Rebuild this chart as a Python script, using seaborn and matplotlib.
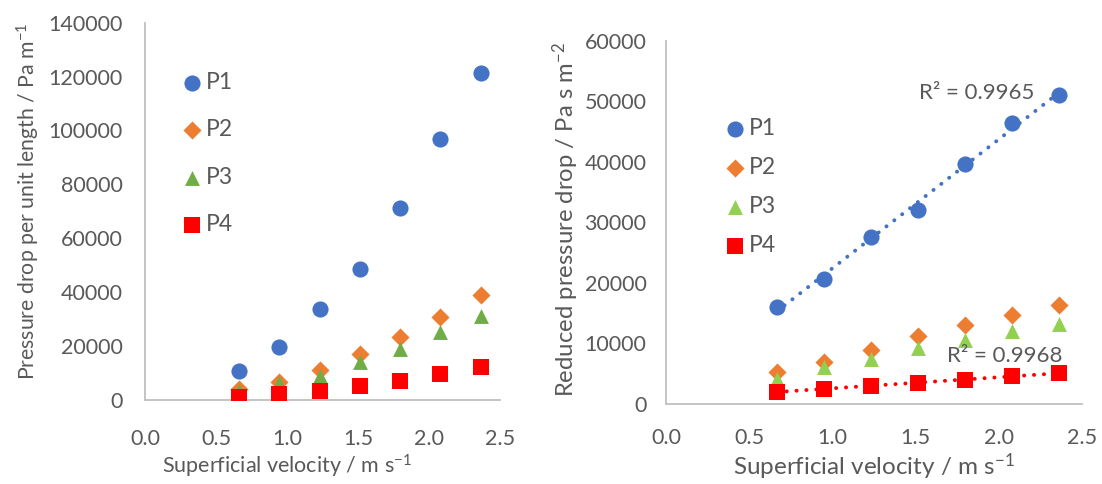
import numpy as np
import pandas as pd
import matplotlib
matplotlib.use("Agg")
import matplotlib.pyplot as plt
import seaborn as sns

# superficial velocity (m/s)
velocity = [0.665, 0.947, 1.229, 1.513, 1.796, 2.080, 2.363]
series = ["P1", "P2", "P3", "P4"]

# pressure drop per unit length (Pa/m)
dp_p1 = [10600, 19600, 33800, 48700, 71200, 96700, 121200]
dp_p2 = [4000, 6600, 11100, 17000, 23500, 30800, 38900]
dp_p3 = [3500, 6300, 9000, 14200, 18900, 25100, 31200]
dp_p4 = [1200, 2300, 3500, 5300, 7200, 9800, 12400]

# reduced pressure drop (Pa s/m2)
red_p1 = [16000, 20700, 27500, 32100, 39600, 46400, 51100]
red_p2 = [5300, 6900, 9000, 11200, 13000, 14700, 16300]
red_p3 = [4200, 6100, 7400, 9300, 10600, 12100, 13200]
red_p4 = [2000, 2500, 3000, 3500, 4000, 4600, 5100]

r2_labels = ["R\u00b2 = 0.9965", "R\u00b2 = 0.9968"]

sns.set_style("white")
plt.rcParams["font.family"] = ["Lato", "DejaVu Sans"]
plt.rcParams["mathtext.default"] = "regular"

grey = "#595959"
axis_grey = "#BFBFBF"
markers = {"P1": "o", "P2": "D", "P3": "^", "P4": "s"}
sizes = {"P1": 135, "P2": 85, "P3": 115, "P4": 135}


def long_frame(values):
    rows = []
    for name, vals in zip(series, values):
        for v, y in zip(velocity, vals):
            rows.append({"v": v, "y": y, "series": name})
    return pd.DataFrame(rows)


def style_axes(ax, ymax, ystep, xpad, ypad):
    ax.set_xlim(0, 2.5)
    ax.set_ylim(0, ymax)
    ax.set_xticks(np.arange(0, 2.51, 0.5))
    ax.set_xticklabels([f"{t:.1f}" for t in np.arange(0, 2.51, 0.5)])
    ax.set_yticks(np.arange(0, ymax + 1, ystep))
    ax.set_yticklabels([f"{int(t)}" for t in np.arange(0, ymax + 1, ystep)])
    for s in ["top", "right"]:
        ax.spines[s].set_visible(False)
    for s in ["left", "bottom"]:
        ax.spines[s].set_color(axis_grey)
        ax.spines[s].set_linewidth(1.3)
    ax.tick_params(axis="both", direction="in", length=5, width=1.3,
                   color=axis_grey, labelcolor=grey, labelsize=15.5)
    ax.tick_params(axis="x", pad=xpad)
    ax.tick_params(axis="y", pad=ypad)


def draw(ax, df, palette, legend_anchor, spacing):
    for name in series:
        sub = df[df["series"] == name]
        sns.scatterplot(data=sub, x="v", y="y", ax=ax, color=palette[name],
                        marker=markers[name], s=sizes[name], linewidth=0,
                        label=name, zorder=3)
    leg = ax.legend(loc="upper left", bbox_to_anchor=legend_anchor,
                    frameon=False, fontsize=16.5, labelspacing=spacing,
                    handletextpad=0.0, handlelength=1.2, borderpad=0)
    for t in leg.get_texts():
        t.set_color(grey)


fig = plt.figure(figsize=(11.02, 4.84), dpi=100)
ax1 = fig.add_axes([0.1316, 0.1736, 0.3221, 0.7795])
ax2 = fig.add_axes([0.6044, 0.1653, 0.3774, 0.7506])

pal_left = {"P1": "#4472C4", "P2": "#ED7D31", "P3": "#70AD47", "P4": "#FF0000"}
pal_right = {"P1": "#4472C4", "P2": "#ED7D31", "P3": "#92D050", "P4": "#FF0000"}

df_left = long_frame([dp_p1, dp_p2, dp_p3, dp_p4])
df_right = long_frame([red_p1, red_p2, red_p3, red_p4])

draw(ax1, df_left, pal_left, (0.062, 0.9), 1.15)
draw(ax2, df_right, pal_right, (0.106, 0.818), 0.78)

# linear trendlines on the reduced pressure drop
for name, vals in [("P1", red_p1), ("P4", red_p4)]:
    sns.regplot(x=velocity, y=vals, ax=ax2, scatter=False, ci=None,
                truncate=True,
                line_kws={"color": pal_right[name], "linestyle": (0, (0.05, 2.5)),
                          "linewidth": 2.8, "dash_capstyle": "round",
                          "zorder": 2})

ax2.text(2.217, 51400, r2_labels[0], ha="right", va="center",
         fontsize=16, color=grey)
ax2.text(2.386, 8000, r2_labels[1], ha="right", va="center",
         fontsize=16, color=grey)

style_axes(ax1, 140000, 20000, 21, 16)
style_axes(ax2, 60000, 10000, 17, 14)

ax1.set_xlabel("Superficial velocity / m s$^{-1}$", fontsize=15.5, color=grey)
ax1.set_ylabel("Pressure drop per unit length / Pa m$^{-1}$", fontsize=15.3,
               color=grey)
ax2.set_xlabel("Superficial velocity / m s$^{-1}$", fontsize=17.5, color=grey)
ax2.set_ylabel("Reduced pressure drop / Pa s m$^{-2}$", fontsize=17.2,
               color=grey)
ax1.xaxis.set_label_coords(0.40, -0.14)
ax1.yaxis.set_label_coords(-0.29, 0.526)
ax2.xaxis.set_label_coords(0.5, -0.13)
ax2.yaxis.set_label_coords(-0.205, 0.507)

fig.savefig("out.png", dpi=100, facecolor="white")
